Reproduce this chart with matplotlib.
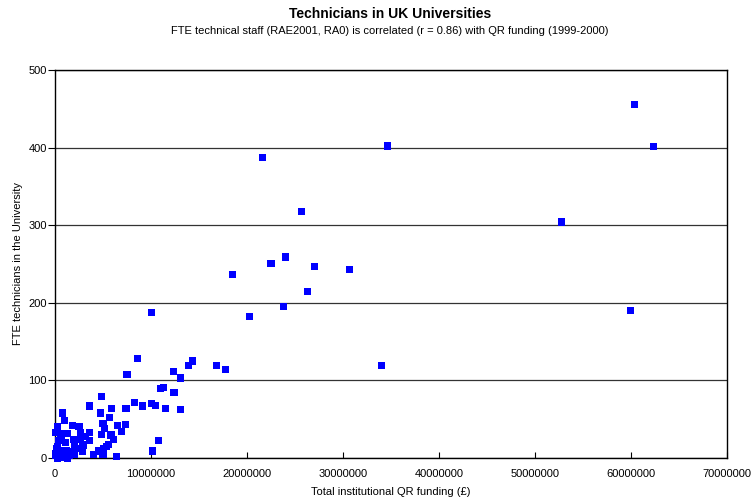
import matplotlib.pyplot as plt
from matplotlib.ticker import FuncFormatter

plt.rcParams['font.family'] = ['Liberation Sans', 'DejaVu Sans']

# QR funding (pounds, millions) and FTE technicians
qr_funding_m = [
    60.4, 62.3, 52.8, 59.9, 34.6, 34.0, 30.7, 21.6, 25.7, 22.5,
    24.0, 27.0, 18.5, 26.3, 23.8, 20.3, 16.8, 17.8, 13.9, 14.3,
    10.1, 8.6, 7.5, 12.3, 13.1, 11.0, 11.3, 12.4, 8.3, 9.1,
    10.1, 10.5, 11.5, 7.4, 5.9, 4.8, 3.6, 4.7, 5.7, 0.76,
    1.0, 0.3, 0.03, 1.8, 2.5, 5.0, 6.5, 7.3, 5.2, 6.9,
    5.9, 6.1, 10.8, 10.2, 6.4, 5.4, 5.0, 5.0, 3.6, 2.7,
    1.35, 0.55, 1.9, 2.7, 3.6, 4.8, 5.8, 5.6, 5.1, 4.5,
    4.0, 2.9, 2.0, 1.1, 2.0, 1.2, 0.3, 0.03, 0.3, 0.8,
    1.35, 0.6, 3.0, 2.9, 1.5, 0.2, 0.5, 0.9, 1.7, 0.1,
    0.4, 0.7, 2.2, 3.2, 13.1,
]
fte_technicians = [
    456, 401, 304, 190, 402, 119, 243, 387, 318, 250,
    259, 247, 236, 215, 195, 182, 119, 114, 119, 125,
    188, 128, 107, 112, 103, 89, 91, 84, 72, 67,
    70, 68, 64, 64, 64, 79, 67, 58, 52, 58,
    48, 40, 33, 42, 40, 44, 42, 43, 38, 34,
    30, 24, 23, 9, 2, 15, 8, 4, 33, 33,
    31, 32, 24, 24, 23, 30, 29, 17, 12, 9,
    4, 17, 17, 20, 5, 10, 15, 6, 0, 2,
    0, 10, 16, 8, 3, 12, 5, 1, 8, 3,
    22, 27, 12, 28, 63,
]

x_ticks = [0, 10000000, 20000000, 30000000, 40000000, 50000000, 60000000, 70000000]
y_ticks = [0, 100, 200, 300, 400, 500]

qr_funding = [v * 1e6 for v in qr_funding_m]

fig = plt.figure(figsize=(7.53, 5.03), dpi=100)
ax = fig.add_axes([0.073, 0.0895, 0.8925, 0.7715])

ax.scatter(qr_funding, fte_technicians, marker='s', s=26, color='#0000ff',
           edgecolors='none', zorder=3, clip_on=False)

ax.set_xlim(0, 70000000)
ax.set_ylim(0, 500)
ax.set_xticks(x_ticks)
ax.set_yticks(y_ticks)
ax.xaxis.set_major_formatter(FuncFormatter(lambda v, p: '%d' % v))
ax.tick_params(axis='x', direction='in', length=4, labelsize=8, pad=8)
ax.tick_params(axis='y', direction='out', length=5, labelsize=8, pad=1)

ax.grid(axis='y', color='#333333', linewidth=0.9)
ax.set_axisbelow(True)
for s in ax.spines.values():
    s.set_linewidth(1.0)
    s.set_color('black')

ax.set_xlabel('Total institutional QR funding (£)', fontsize=8, labelpad=6)
ax.set_ylabel('FTE technicians in the University', fontsize=8, labelpad=4)

fig.text(0.518, 0.972, 'Technicians in UK Universities', ha='center', va='center',
         fontsize=10, fontweight='bold')
fig.text(0.518, 0.938, 'FTE technical staff (RAE2001, RA0) is correlated (r = 0.86) with QR funding (1999-2000)',
         ha='center', va='center', fontsize=8)

fig.savefig('out.png', dpi=100)
